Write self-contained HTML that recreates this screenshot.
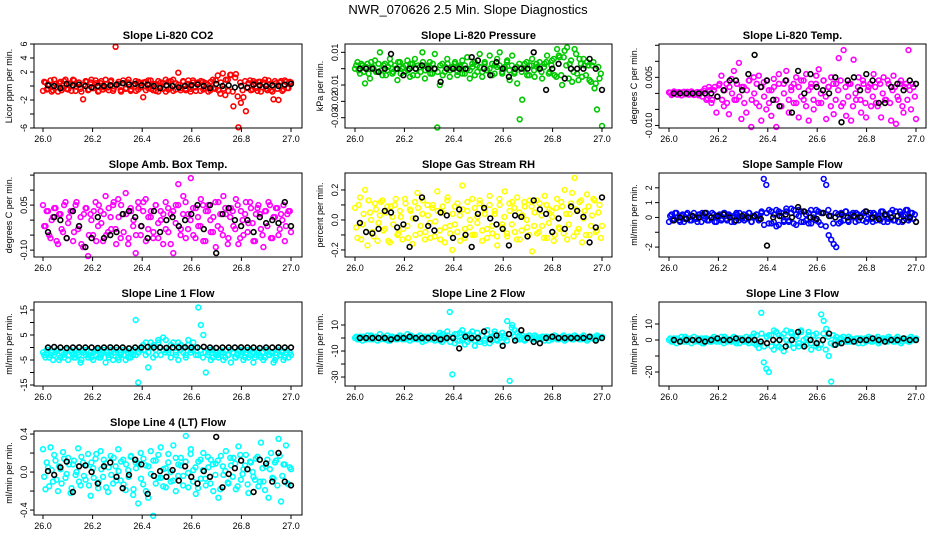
<!DOCTYPE html>
<html><head><meta charset="utf-8"><style>
html,body{margin:0;padding:0;background:#fff;}
svg{display:block;font-family:"Liberation Sans",sans-serif;}
</style></head><body>
<svg id="chart" width="936" height="540" viewBox="0 0 936 540" xmlns="http://www.w3.org/2000/svg">
<rect width="936" height="540" fill="#fff"/>
<text x="468" y="14" text-anchor="middle" font-size="13">NWR_070626  2.5 Min. Slope Diagnostics</text>
</svg>
<script>
const xTickLabels = ["26.0","26.2","26.4","26.6","26.8","27.0"];
const xTickValues = [26.0,26.2,26.4,26.6,26.8,27.0];
const panelTitles = ["Slope Li-820 CO2","Slope Li-820 Pressure","Slope Li-820 Temp.","Slope Amb. Box Temp.","Slope Gas Stream RH","Slope Sample Flow","Slope Line 1 Flow","Slope Line 2 Flow","Slope Line 3 Flow","Slope Line 4 (LT) Flow"];
const yTitles = ["Licor ppm per min.","kPa per min.","degrees C per min.","degrees C per min.","percent per min.","ml/min per min.","ml/min per min.","ml/min per min.","ml/min per min.","ml/min per min."];
const yTickValues = [[-6,-4,-2,0,2,4,6],[0.01,0,-0.01,-0.02,-0.03],[0.015,0.01,0.005,0,-0.005,-0.01],[0.15,0.1,0.05,0,-0.05,-0.1],[0.2,0.1,0,-0.1,-0.2],[2,1,0,-1,-2],[15,10,5,0,-5,-10,-15],[10,0,-10,-20,-30],[10,0,-10,-20],[0.4,0.2,0,-0.2,-0.4]];
const yTickLabels = [["-6","","-2","","2","4","6"],["0.01","","-0.01","-0.02","-0.03"],["","","0.005","","","-0.010"],["","","0.05","","","-0.10"],["0.2","","0.0","","-0.2"],["2","1","0","","-2"],["15","","5","","-5","","-15"],["10","","-10","","-30"],["10","0","","-20"],["0.4","","0.0","","-0.4"]];
const yLimits = [[-6,6],[-0.0363,0.0151],[-0.0108,0.0154],[-0.123,0.157],[-0.247,0.313],[-2.67,3.0],[-15.4,18.2],[-36.9,27.7],[-28.75,23.75],[-0.452,0.432]];
const seriesColors = ["#ff0000","#00c800","#ff00ff","#ff00ff","#ffff00","#0000ff","#00ffff","#00ffff","#00ffff","#00ffff"];

const co2Values = [-0.7,0.5,-0.4,0.8,-0.6,0.3,-0.8,0.6,-0.3,0.9,-0.5,0.4,0.9,-0.7,0.2,-0.4,-1.9,0.7,-0.6,0.5,-0.3,0.8,-0.8,0.4,-0.5,0.9,-0.2,0.6,-0.7,5.6,0.3,-0.6,0.8,-0.4,0.5,-0.7,0.2,0.7,-0.5,0.4,-1.6,0.6,-0.3,0.8,-0.6,0.3,-0.8,0.5,-0.4,0.9,-0.5,0.7,-0.7,0.4,1.9,-0.3,0.6,-0.6,0.8,-0.4,0.5,-0.7,0.3,0.7,-0.5,0.4,-0.8,0.6,-0.3,0.8,-0.6,0.5,-0.4,0.9,-0.7,1.6,-2.9,1.7,-5.9,-2.4,-1.6,-3.6,0.4,-0.6,0.7,-0.3,0.6,-0.8,0.5,-0.4,0.8,-0.6,-1.9,0.4,-2.0,0.7,-0.5,0.6,-0.3,0.5];
const co2ValuesB = [0.6,-0.5,0.2,-0.8,0.9,-0.2,0.4,-0.6,0.7,-0.4,0.3,-0.7,0.8,-0.1,0.5,-0.8,0.2,0.6,-0.5,0.9,-0.3,0.4,-0.7,0.7,-0.2,0.3,-0.6,0.8,-0.4,0.1,0.6,-0.8,0.4,-0.3,0.9,-0.5,0.2,-0.7,0.6,-0.2,0.5,-0.6,0.8,-0.4,0.3,-0.7,0.7,-0.1,0.4,-0.8,0.6,-0.3,0.9,-0.5,0.2,-0.6,0.7,-0.4,0.3,-0.8,0.8,-0.2,0.5,-0.7,0.6,-0.3,0.2,-0.6,0.9,-0.4,1.5,-1.1,1.8,-1.3,0.9,1.6,-0.8,1.2,-1.5,0.5,-0.6,0.7,-0.3,0.8,-0.5,0.4,-0.7,0.6,-0.2,0.9,-0.6,0.3,-0.8,0.7,-0.4,0.5,-0.7,0.8,-0.3,0.6];
const co2Black = [0.1,0.0,-0.3,0.3,0.1,0.2,0.0,-0.2,0.0,0.0,0.1,0.2,0.4,0.2,0.3,0.1,0.2,0.0,-0.3,0.1,0.0,-0.2,0.0,0.1,0.2,0.0,-0.3,0.3,0.0,0.1,-0.2,0.0,-0.2,0.2,0.1,0.0,0.1,0.0,0.2,0.3];
const pressureValues = [0.0,0.004,-0.003,0.002,-0.009,0.003,-0.006,0.001,0.005,-0.002,0.01,-0.004,0.003,-0.001,0.006,-0.003,0.002,-0.007,0.004,0.0,-0.002,0.005,-0.005,0.003,0.006,-0.004,0.001,0.01,-0.006,0.002,0.004,-0.003,0.009,-0.036,-0.01,0.003,-0.002,0.006,-0.005,0.001,0.003,-0.004,0.002,0.005,-0.003,0.007,-0.006,0.001,0.004,-0.002,0.009,-0.005,0.003,-0.001,0.008,-0.004,0.002,0.006,0.01,-0.003,0.001,0.005,-0.007,0.008,-0.002,-0.009,-0.031,-0.019,0.003,-0.004,0.002,0.006,-0.005,0.001,0.004,-0.006,0.003,0.008,-0.002,0.005,-0.004,0.012,0.007,-0.01,0.011,0.013,0.003,-0.008,0.012,-0.003,0.006,-0.005,0.002,0.004,-0.007,0.002,-0.012,-0.025,-0.006,-0.035];
const pressureValuesB = [0.002,-0.001,0.003,-0.002,0.001,-0.003,0.004,0.0,-0.002,0.003,-0.001,0.002,-0.004,0.001,0.003,-0.002,0.0,0.004,-0.003,0.001,0.002,-0.001,0.003,-0.004,0.0,0.002,-0.002,0.004,-0.001,0.001,-0.003,0.003,0.0,-0.002,0.002,-0.004,0.001,0.003,-0.001,0.0,0.004,-0.002,0.001,-0.003,0.002,0.0,-0.001,0.003,-0.004,0.002,0.001,-0.002,0.004,-0.001,0.0,0.003,-0.003,0.001,0.002,-0.002,0.0,0.004,-0.001,0.002,-0.003,0.001,0.003,-0.002,0.0,0.004,-0.004,0.002,-0.001,0.003,0.0,-0.002,0.001,0.004,-0.003,0.002,0.006,-0.005,0.008,-0.004,0.007,0.002,-0.006,0.005,-0.002,0.009,-0.007,0.003,0.006,-0.004,0.002,-0.008,0.004,-0.009,0.001,-0.003];
const pressureBlack = [0,0,0,-0.002,0,0.009,0,-0.004,0,0,0.002,0,0,-0.008,0,0,0,0,0.007,0.005,0,-0.004,0.004,0,-0.005,0,0,0,0.01,0,-0.013,0,0.003,-0.006,0,0,0,0.006,0,-0.013];
const licorTempValues = [0.0003,-0.0005,0.0006,-0.0003,0.0004,-0.0006,0.0005,0.0,-0.0004,0.0006,-0.0005,0.0003,-0.0006,0.0005,0.0008,-0.002,0.002,-0.003,0.001,-0.006,0.0025,0.0055,-0.004,0.003,-0.0065,0.0045,0.007,-0.002,0.0095,-0.008,0.002,-0.006,0.004,-0.0105,0.005,-0.003,0.0055,-0.0085,0.0035,-0.005,0.001,-0.007,0.0045,-0.0105,0.006,-0.004,0.003,0.007,-0.006,0.002,-0.003,0.005,-0.0075,0.004,-0.002,0.006,-0.0085,0.003,-0.005,0.0055,0.0075,-0.003,0.004,-0.008,0.002,0.005,-0.0065,0.003,0.011,-0.004,0.0135,-0.007,0.003,-0.0085,0.0105,-0.002,0.005,-0.006,0.003,-0.0075,0.002,-0.004,0.006,-0.003,0.004,-0.0075,0.005,-0.002,0.003,-0.0085,0.0055,-0.0095,-0.002,0.004,-0.006,0.003,0.0135,-0.005,0.002,-0.008];
const licorTempValuesB = [0.0002,-0.0002,0.0004,-0.0004,0.0001,0.0003,-0.0003,0.0005,-0.0001,0.0002,-0.0004,0.0004,0.0,-0.001,0.0015,-0.0015,0.001,-0.002,0.002,-0.001,0.003,-0.002,0.001,-0.003,0.002,0.0,-0.002,0.003,-0.001,0.002,-0.003,0.001,0.004,-0.002,0.0,0.003,-0.004,0.002,-0.001,0.004,-0.003,0.001,0.002,-0.002,0.003,-0.004,0.0,0.004,-0.002,0.001,0.003,-0.003,0.002,-0.001,0.004,-0.004,0.001,0.002,-0.002,0.003,-0.003,0.0,0.004,-0.001,0.002,-0.004,0.003,-0.002,0.001,0.004,-0.003,0.002,-0.001,0.003,-0.004,0.0,0.002,-0.002,0.004,-0.003,0.001,0.003,-0.001,0.002,-0.004,0.003,0.0,-0.002,0.004,-0.003,0.001,0.002,-0.001,0.003,-0.004,0.002,-0.002,0.001,0.003,-0.001];
const licorTempBlack = [0,0,0,0,0,0,0,-0.001,0.001,0.004,0.004,0.001,0.006,0.012,0.002,0.004,-0.002,-0.004,0.004,-0.006,0.007,0.0,0.006,0.002,0.001,0.0,0.005,-0.009,0.004,0.005,0.001,0.006,0.004,-0.003,-0.003,0.002,0.003,0.001,0.004,0.003];
const ambTempValues = [0.05,-0.02,0.03,-0.06,0.01,0.04,-0.08,0.02,-0.04,0.06,-0.01,0.03,-0.07,0.05,-0.03,0.01,-0.09,0.04,-0.12,0.02,-0.05,0.06,-0.02,0.03,-0.07,0.08,-0.04,0.01,0.05,-0.03,0.07,-0.06,0.02,0.09,-0.08,0.04,-0.02,-0.11,0.06,-0.05,0.03,0.07,-0.03,0.01,-0.06,0.05,-0.01,0.03,-0.08,0.06,-0.04,0.02,-0.11,0.05,0.12,-0.03,0.08,-0.06,0.02,0.14,-0.05,0.04,-0.02,0.07,-0.07,0.03,0.05,-0.04,0.01,-0.09,0.06,-0.03,0.08,0.02,-0.06,0.04,-0.02,0.07,-0.08,0.03,-0.05,0.06,-0.01,0.04,-0.07,0.02,0.05,-0.03,-0.09,0.03,0.06,-0.06,0.01,0.04,-0.05,0.02,0.05,-0.02,0.03,-0.04];
const ambTempValuesB = [-0.02,0.03,-0.05,0.0,0.04,-0.07,0.02,-0.03,0.05,-0.06,0.01,0.03,-0.04,0.06,-0.02,-0.08,0.02,0.04,-0.05,0.0,0.03,-0.07,0.05,-0.01,0.02,-0.05,0.04,-0.03,0.06,-0.08,0.01,0.05,-0.04,0.02,-0.06,0.03,0.0,-0.05,0.04,-0.02,0.06,-0.07,0.01,0.03,-0.04,0.05,-0.06,0.0,0.02,-0.03,0.04,-0.08,0.03,-0.01,0.05,-0.05,0.02,0.06,-0.03,0.0,0.04,-0.06,0.01,-0.02,0.05,-0.07,0.03,0.0,-0.04,0.06,-0.02,0.02,-0.05,0.04,-0.08,0.01,0.03,-0.03,0.05,-0.06,0.0,0.02,-0.04,0.06,-0.01,-0.07,0.04,0.02,-0.05,0.03,-0.02,0.05,-0.06,0.01,0.04,-0.03,0.0,-0.07,0.02,0.03];
const ambTempBlack = [-0.04,0.01,0.0,-0.06,0.03,-0.02,-0.09,-0.06,0.01,-0.06,-0.05,-0.04,0.02,0.03,0.01,-0.02,-0.06,0.03,-0.04,0.0,0.01,-0.02,0.0,0.02,0.05,-0.03,0.05,-0.11,0.02,0.04,0.0,-0.02,0.0,-0.04,0.01,-0.01,0.0,-0.01,0.06,-0.02];
const rhValues = [0.08,-0.12,0.15,-0.03,0.2,-0.17,0.05,-0.08,0.11,-0.14,0.03,0.13,-0.06,0.09,-0.15,0.02,0.1,-0.1,0.06,-0.13,0.14,-0.04,0.07,-0.16,0.12,0.18,-0.09,0.04,-0.13,0.1,-0.02,0.08,-0.11,0.19,-0.07,0.05,-0.15,0.13,-0.04,-0.2,0.09,-0.08,0.03,0.23,-0.12,0.06,-0.05,0.14,-0.1,0.02,0.11,-0.14,0.07,-0.06,0.16,-0.09,0.04,-0.17,0.1,-0.03,0.19,-0.11,0.06,0.12,-0.08,0.15,-0.13,0.03,0.09,-0.05,0.13,-0.21,0.05,-0.09,0.11,-0.04,0.16,-0.12,0.07,0.02,-0.1,0.14,-0.06,0.09,0.2,-0.13,0.04,0.18,0.28,-0.08,0.12,-0.15,0.06,0.17,-0.1,0.03,0.13,-0.07,0.1,-0.04];
const rhValuesB = [-0.05,0.1,-0.13,0.04,-0.08,0.13,0.0,-0.11,0.07,-0.02,0.12,-0.07,0.05,-0.14,0.09,-0.03,0.14,-0.09,0.02,-0.06,0.11,-0.12,0.06,0.01,-0.1,0.08,-0.04,0.13,-0.08,0.03,-0.12,0.1,-0.01,0.06,-0.13,0.09,-0.05,0.15,-0.09,0.04,-0.03,0.11,-0.14,0.07,-0.06,0.12,0.0,-0.1,0.08,-0.02,0.13,-0.07,0.04,-0.12,0.1,-0.04,0.06,-0.11,0.14,-0.05,0.02,-0.09,0.11,-0.03,0.08,-0.13,0.05,-0.07,0.12,0.0,-0.1,0.09,-0.04,0.13,-0.08,0.03,-0.12,0.1,-0.02,0.06,-0.14,0.08,-0.05,0.12,-0.09,0.04,-0.03,0.11,-0.11,0.07,-0.06,0.13,0.01,-0.1,0.09,-0.04,0.14,-0.08,0.05,-0.12];
const rhBlack = [-0.02,-0.08,-0.09,-0.06,0.06,0.05,-0.05,-0.03,-0.18,0.01,0.15,-0.04,-0.07,0.05,0.03,-0.12,0.07,-0.1,-0.18,0.04,0.08,0.01,-0.03,-0.06,-0.17,0.03,0.02,-0.11,0.13,0.07,0.04,-0.08,0.01,-0.06,0.09,0.06,0.02,-0.15,-0.05,0.15];
const sampleFlowValues = [-0.3,0.2,-0.1,0.3,-0.2,0.1,-0.3,0.2,0.0,-0.2,0.3,-0.1,0.2,-0.3,0.1,0.3,-0.2,0.0,0.2,-0.3,0.1,-0.2,0.3,-0.1,0.2,-0.3,0.1,0.3,-0.2,0.0,0.2,-0.1,0.3,-0.3,0.1,0.2,-0.2,0.3,2.6,2.2,-0.4,0.4,-0.3,0.5,-0.5,0.3,-0.2,0.4,-0.3,0.6,-0.4,0.2,0.5,-0.3,0.4,-0.2,0.3,-0.4,0.2,0.5,-0.3,0.3,2.6,2.2,-1.2,-1.5,-1.8,-2.0,-0.4,0.3,-0.2,0.4,-0.3,0.2,0.0,0.3,-0.2,0.1,0.3,-0.3,0.2,-0.1,0.3,-0.2,0.1,0.4,-0.3,0.2,-0.1,0.3,-0.2,0.4,-0.3,0.2,0.1,0.5,-0.2,0.3,-0.1,-0.3];
const sampleFlowValuesB = [0.1,-0.2,0.3,0.0,-0.3,0.2,-0.1,0.3,-0.2,0.1,0.0,-0.3,0.2,0.3,-0.1,-0.2,0.1,0.3,-0.3,0.0,0.2,-0.1,0.3,-0.2,0.1,0.0,-0.3,0.2,0.3,-0.1,-0.2,0.1,0.3,-0.3,0.0,0.2,-0.1,0.4,-0.5,0.3,0.5,-0.4,0.2,-0.6,0.4,0.1,-0.3,0.6,-0.2,0.3,0.5,-0.5,0.1,0.4,-0.3,0.2,-0.4,0.5,0.0,-0.2,0.4,-0.5,0.3,-0.6,0.5,0.1,-0.4,0.3,0.2,-0.3,0.1,0.4,-0.2,0.0,0.3,-0.3,0.2,0.1,-0.2,0.4,-0.1,0.3,-0.3,0.2,0.0,-0.2,0.4,0.1,-0.3,0.3,0.5,-0.2,0.1,0.4,-0.3,0.2,0.5,-0.1,0.3,0.2];
const sampleFlowBlack = [-0.2,0.0,-0.1,0.1,0.0,0.3,0.0,0.1,0.2,0.0,-0.2,0.1,0.0,0.1,-0.1,-1.9,0.0,0.1,0.2,0.0,0.7,0.4,0.0,-0.1,0.3,0.1,0.0,0.2,0.0,0.1,0.0,0.4,0.0,-0.1,0.2,0.0,0.1,-0.2,0.0,-0.3];
const line1Values = [-2,-4,-1,-3,-5,-2,-1,-4,-3,-2,-5,-1,-3,-4,-2,-6,-1,-3,-4,-2,-5,-3,-1,-4,-2,-6,-3,-1,-5,-2,-4,-3,-1,-5,-2,-4,-3,11,-14,-1,1,-3,-8,2,-4,-1,3,-3,4,-2,-1,-4,2,-3,-5,1,-2,-4,3,-1,2,-3,16,9,5,-10,-2,-5,-1,-3,-4,-2,-5,-1,-3,-6,-2,-4,-1,-3,-5,-2,-4,-1,-6,-3,-2,-4,-5,-1,-3,-2,-6,-4,-1,-3,-5,-2,-4,-3];
const line1ValuesB = [-3,-1,-4,-2,-3,-1,-5,-2,-4,-1,-3,-2,-4,-1,-3,-5,-2,-1,-3,-4,-2,-1,-4,-3,-1,-2,-4,-3,-2,-1,-5,-2,-3,-1,-4,-2,-1,-3,-2,0,-1,2,-2,0,1,-3,2,0,-1,3,-2,1,0,-2,2,-1,0,-3,1,-2,-1,0,-3,-1,-4,-2,-3,-1,-4,-2,-3,-1,-2,-4,-3,-1,-2,-4,-3,-1,-2,-4,-1,-3,-2,-4,-1,-3,-2,-4,-1,-3,-2,-5,-1,-3,-2,-4,-1,-2];
const line1Black = [0,0.2,0,-0.2,0,0.1,0,0,-0.2,0,0.1,0,0,-0.3,0,0,0.2,0,0,-0.1,0,0,0.1,0,0,0.3,0,-0.1,0,0,0,0.1,0,0,-0.2,0,0,0.1,0,0];
const line2Values = [0,-1,1,-2,0,2,-1,1,0,-2,3,0,-1,2,-2,1,0,-1,2,-1,0,3,-2,1,0,-1,2,-3,1,0,-1,2,-2,0,4,-3,1,5,20,-28,-4,3,-2,6,-5,2,-1,5,-6,4,-3,2,-2,6,-4,1,3,-2,0,4,2,13,-33,10,6,4,-1,2,-2,1,0,-1,2,-1,0,1,-2,1,0,-1,2,-1,0,1,-2,0,1,-1,2,0,-1,1,0,-2,1,0,-1,2,0,1];
const line2ValuesB = [1,-1,0,1,-1,0,2,-1,1,0,-1,1,0,-2,1,0,-1,1,0,1,-1,0,2,-1,0,1,-1,0,-2,1,0,-1,1,2,-2,3,-1,2,-3,1,3,-2,4,-1,2,-3,3,0,-2,4,-1,2,-4,3,0,-2,5,-1,2,-3,0,-2,3,8,1,-1,2,0,-1,1,2,0,-1,1,0,-1,1,0,-2,1,0,1,-1,0,2,-1,1,0,-1,1,0,-1,2,0,-1,1,0,-1,1,0];
const line2Black = [0,0,0,0,0,-1,0,0,1,0,0,0,0,-1,0,0,-8,1,0,0,5,-1,2,-6,3,-2,6,0,-3,-4,0,1,0,0,0,0,0,1,-2,0];
const line3Values = [0,-1,1,-2,0,2,-1,1,0,-2,2,0,-1,1,-2,1,0,-1,2,-1,0,2,-2,1,0,-1,2,-2,1,0,-1,2,-2,0,4,-3,-5,17,-14,-18,-20,3,-6,5,-4,2,-7,6,-3,4,-5,2,-2,5,-4,1,3,-6,0,4,-5,16,12,7,-10,-26,-3,2,-2,1,0,-1,2,-1,0,1,-2,1,0,-1,2,-1,0,1,-2,0,1,-1,2,0,-1,1,0,-2,1,0,-1,2,0,1];
const line3ValuesB = [1,-1,0,1,-1,0,2,-1,1,0,-1,1,0,-2,1,0,-1,1,0,1,-1,0,2,-1,0,1,-1,0,-2,1,0,-1,1,2,-2,3,-2,4,-4,2,3,-4,6,-2,3,-5,4,0,-3,5,-2,3,-4,6,0,-3,5,-2,3,-4,0,-3,4,-6,2,-2,3,0,-1,1,2,0,-1,1,0,-1,1,0,-2,1,0,1,-1,0,2,-1,1,0,-1,1,0,-1,2,0,-1,1,0,-1,1,0];
const line3Black = [0,-1,0,0,0,-1,0,1,0,0,1,0,0,0,-1,-2,0,0,-4,0,5,-4,0,-2,0,4,-3,-2,0,-1,0,0,1,0,-1,0,0,1,0,0];
const line4Values = [0.24,-0.18,0.05,0.26,-0.1,0.12,-0.2,0.03,0.21,-0.06,0.15,-0.22,0.08,-0.03,0.25,-0.14,0.1,-0.08,0.19,-0.25,0.04,0.14,-0.17,0.22,-0.05,0.09,-0.21,0.17,-0.12,0.06,0.24,-0.09,0.13,-0.19,0.02,0.16,-0.24,0.1,-0.33,0.2,-0.13,0.07,-0.27,0.22,-0.46,0.12,-0.06,0.26,-0.15,0.04,0.19,-0.1,0.28,-0.2,0.08,0.15,-0.04,0.38,-0.16,0.24,0.02,-0.23,0.11,-0.07,0.2,-0.14,0.05,0.13,-0.2,0.09,-0.27,0.17,-0.03,0.22,-0.12,0.07,0.15,-0.18,0.27,-0.08,0.03,0.18,-0.22,0.1,-0.05,0.14,-0.15,0.31,-0.1,0.06,-0.27,0.2,-0.07,0.12,0.35,-0.31,0.08,0.28,-0.13,0.03];
const line4ValuesB = [-0.05,0.1,-0.15,0.02,0.18,-0.08,0.06,-0.12,0.14,-0.02,0.08,-0.17,0.12,0.0,-0.1,0.16,-0.04,0.07,-0.14,0.1,-0.06,0.19,-0.11,0.03,0.13,-0.16,0.05,-0.03,0.15,-0.09,0.01,0.11,-0.13,0.08,-0.05,0.17,-0.18,0.04,0.09,-0.07,0.14,-0.2,0.06,-0.02,0.12,-0.12,0.18,-0.06,0.03,-0.16,0.1,0.0,-0.09,0.15,-0.04,0.07,-0.14,0.11,-0.01,0.19,-0.1,0.05,-0.17,0.13,0.02,-0.07,0.16,-0.12,0.08,-0.03,0.12,-0.18,0.06,0.01,-0.11,0.15,-0.05,0.09,-0.15,0.18,-0.02,0.07,-0.13,0.11,0.0,-0.08,0.16,-0.1,0.04,-0.19,0.13,0.03,-0.06,0.1,-0.14,0.17,-0.04,0.08,-0.12,0.05];
const line4Black = [0.01,-0.03,0.05,0.11,-0.21,0.06,0.07,0.0,-0.12,0.06,0.1,-0.05,-0.17,-0.03,0.13,0.08,-0.23,-0.04,0.01,-0.05,0.02,-0.09,0.06,-0.05,-0.12,0.01,-0.05,0.37,-0.16,-0.02,0.04,0.12,0.03,-0.21,0.13,0.09,-0.1,0.2,-0.1,-0.14];

const colorSeries = [co2Values,pressureValues,licorTempValues,ambTempValues,rhValues,sampleFlowValues,line1Values,line2Values,line3Values,line4Values];
const colorSeriesB = [co2ValuesB,pressureValuesB,licorTempValuesB,ambTempValuesB,rhValuesB,sampleFlowValuesB,line1ValuesB,line2ValuesB,line3ValuesB,line4ValuesB];
const blackSeries = [co2Black,pressureBlack,licorTempBlack,ambTempBlack,rhBlack,sampleFlowBlack,line1Black,line2Black,line3Black,line4Black];
const slugs = ["co2","pressure","licor-temp","amb-box-temp","gas-stream-rh","sample-flow","line1-flow","line2-flow","line3-flow","line4-flow"];

const NS = "http://www.w3.org/2000/svg";
const svg = document.getElementById("chart");
const cols = [{l:34,r:302,x0:43,x1:291},{l:345,r:612,x0:355,x1:602},{l:659,r:926,x0:669,x1:916}];
const rows = [{t:44,b:128},{t:173,b:257},{t:302,b:386},{t:431,b:515}];
function mk(tag, attrs, parent){const e=document.createElementNS(NS,tag);for(const k in attrs)e.setAttribute(k,attrs[k]);(parent||svg).appendChild(e);return e;}

for(let p=0;p<10;p++){
  const c=cols[p%3], r=rows[Math.floor(p/3)];
  const [ymin,ymax]=yLimits[p];
  const xs=v=>c.x0+(v-26)*(c.x1-c.x0);
  const ys=v=>r.b-(v-ymin)/(ymax-ymin)*(r.b-r.t);
  const g=mk("g",{});
  
  
  const t=mk("text",{x:(c.l+c.r)/2,y:r.t-5,"text-anchor":"middle","font-size":"11","font-weight":"bold"},g);
  t.textContent=panelTitles[p];
  
  
  const pts=mk("g",{fill:"none","stroke-width":"1.6"},g);
  
  
  [[colorSeries[p],26,1],[colorSeriesB[p],26.005,0.99]].forEach(([cv,start,span])=>{
    cv.forEach((v,i)=>{
      const cx=xs(start+i*span/(cv.length-1)), cy=ys(v);
      const el=mk("circle",{cx:cx.toFixed(1),cy:cy.toFixed(1),r:"2.4",stroke:seriesColors[p]},pts);
      
      
    });
  });
  const bk=mk("g",{fill:"none","stroke-width":"1.6",stroke:"#000"},g);
  
  
  const bv=blackSeries[p];
  bv.forEach((v,i)=>{
    const cx=xs(26.02+i*0.98/(bv.length-1)), cy=ys(v);
    const el=mk("circle",{cx:cx.toFixed(1),cy:cy.toFixed(1),r:"2.4"},bk);
    
    
  });
  const box=mk("rect",{x:c.l,y:r.t,width:c.r-c.l,height:r.b-r.t,fill:"none",stroke:"#000","stroke-width":"1"},g);
  
  
  const xa=mk("g",{},g);
  
  
  xTickValues.forEach((v,i)=>{
    const x=xs(v);
    mk("line",{x1:x,x2:x,y1:r.b,y2:r.b+4,stroke:"#000"},xa);
    const tl=mk("text",{x:x,y:r.b+14,"text-anchor":"middle","font-size":"9"},xa);
    tl.textContent=xTickLabels[i];
    
    
  });
  const ya=mk("g",{},g);
  
  
  yTickValues[p].forEach((v,i)=>{
    const y=ys(v);
    mk("line",{x1:c.l-4,x2:c.l,y1:y,y2:y,stroke:"#000"},ya);
    if(yTickLabels[p][i]){
      const tl=mk("text",{x:c.l-7,y:y,"text-anchor":"middle","font-size":"9",transform:`rotate(-90 ${c.l-7} ${y})`},ya);
      tl.textContent=yTickLabels[p][i];
      
      
    }
  });
  const yt=mk("text",{x:c.l-22,y:(r.t+r.b)/2,"text-anchor":"middle","font-size":"9",transform:`rotate(-90 ${c.l-22} ${(r.t+r.b)/2})`},g);
  yt.textContent=yTitles[p];
  
  
}
</script>
</body></html>
